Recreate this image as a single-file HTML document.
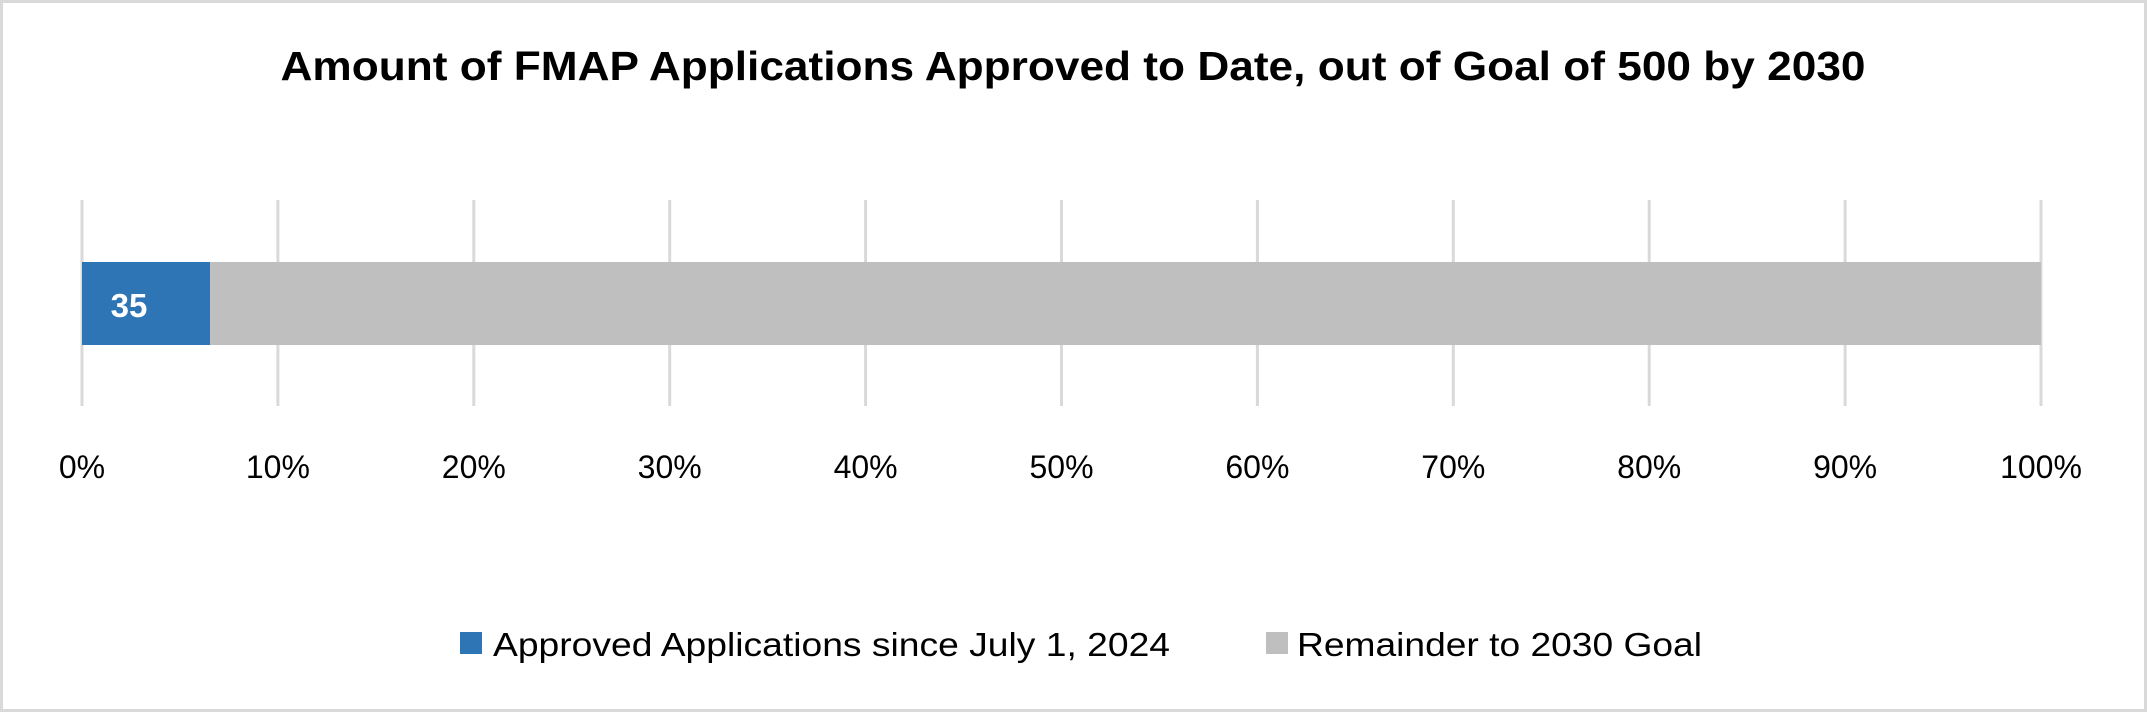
<!DOCTYPE html>
<html><head><meta charset="utf-8"><style>
body{margin:0;background:#fff;}
svg{display:block;font-family:"Liberation Sans",sans-serif;}
</style></head><body>
<svg id="chart" width="2147" height="712">
<rect x="1.5" y="1.5" width="2144" height="709" fill="#fff" stroke="#d9d9d9" stroke-width="3"/>
<text x="1073" y="80" text-anchor="middle" font-size="41" font-weight="bold" fill="#000" textLength="1585" lengthAdjust="spacingAndGlyphs">Amount of FMAP Applications Approved to Date, out of Goal of 500 by 2030</text>
<g id="grid"></g><g id="bars"></g><g id="ticks"></g>
<g>
<rect x="460" y="632" width="22" height="22" fill="#2e75b6"/>
<text x="493" y="656" font-size="33" fill="#000" textLength="677" lengthAdjust="spacingAndGlyphs">Approved Applications since July 1, 2024</text>
<rect x="1266" y="632" width="22" height="22" fill="#bfbfbf"/>
<text x="1297" y="656" font-size="33" fill="#000" textLength="405" lengthAdjust="spacingAndGlyphs">Remainder to 2030 Goal</text>
</g>
</svg>
<script>
const seriesNames=["Approved Applications since July 1, 2024","Remainder to 2030 Goal"];
const seriesValues=[35,500];
const tickValues=[0,0.1,0.2,0.3,0.4,0.5,0.6,0.7,0.8,0.9,1];
const tickLabels=["0%","10%","20%","30%","40%","50%","60%","70%","80%","90%","100%"];
const colors=["#2e75b6","#bfbfbf"];
const NS="http://www.w3.org/2000/svg";
const x0=82,x1=2041;
function xs(p){return x0+p*(x1-x0);}
const grid=document.getElementById('grid'),ticks=document.getElementById('ticks'),bars=document.getElementById('bars');
tickValues.forEach((v,i)=>{
 const l=document.createElementNS(NS,'line');
 l.setAttribute('x1',xs(v));l.setAttribute('x2',xs(v));l.setAttribute('y1',200);l.setAttribute('y2',406);
 l.setAttribute('stroke','#d9d9d9');l.setAttribute('stroke-width',3);
 
 
 grid.appendChild(l);
 const t=document.createElementNS(NS,'text');
 t.setAttribute('x',xs(v));t.setAttribute('y',478);t.setAttribute('text-anchor','middle');
 t.setAttribute('font-size','32');t.textContent=tickLabels[i];
 
 
 ticks.appendChild(t);
});
const total=seriesValues.reduce((a,b)=>a+b,0);
let cum=0;
seriesValues.forEach((v,i)=>{
 const r=document.createElementNS(NS,'rect');
 const a=xs(cum/total),b=xs((cum+v)/total);
 r.setAttribute('x',a);r.setAttribute('width',b-a);r.setAttribute('y',262);r.setAttribute('height',83);
 r.setAttribute('fill',colors[i]);
 
 
 bars.appendChild(r);
 if(i===0){
  const t=document.createElementNS(NS,'text');
  t.setAttribute('x',a+47);t.setAttribute('y',317);t.setAttribute('text-anchor','middle');
  t.setAttribute('font-size','33');t.setAttribute('font-weight','bold');t.setAttribute('fill','#fff');
  t.textContent=v;
  
  
  bars.appendChild(t);
 }
 cum+=v;
});
</script>
</body></html>
